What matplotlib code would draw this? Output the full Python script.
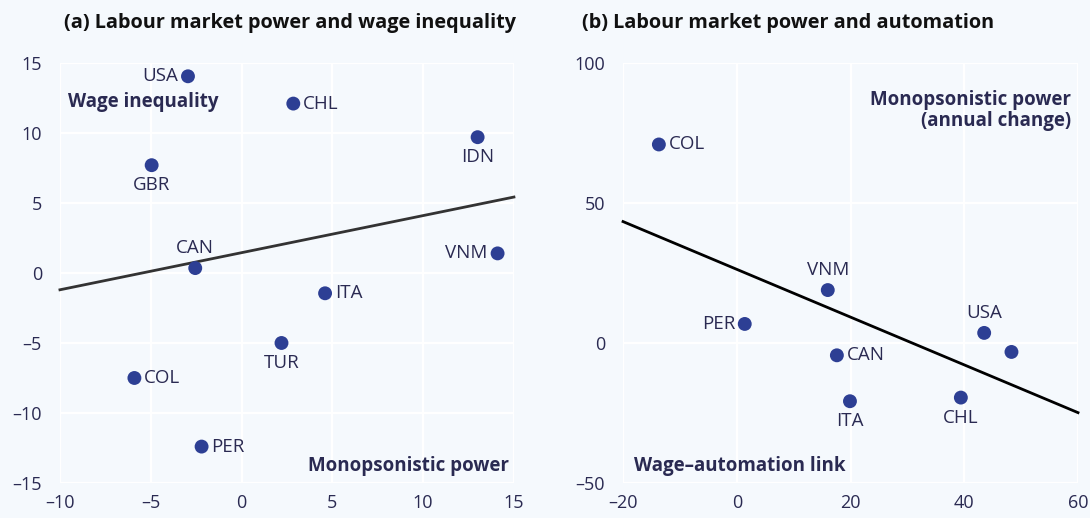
"""
Labour market power: wage inequality (a) and automation (b)
"""

import numpy as np
import matplotlib.pyplot as plt

plt.rcParams['font.family'] = ['Open Sans', 'Noto Sans', 'DejaVu Sans']

# Panel (a): monopsonistic power vs wage inequality
a_countries = ['USA', 'CHL', 'IDN', 'GBR', 'CAN', 'VNM', 'ITA', 'TUR', 'COL', 'PER']
a_power = [-2.95, 2.85, 13.0, -4.95, -2.55, 14.1, 4.6, 2.2, -5.9, -2.2]
a_ineq = [14.05, 12.1, 9.7, 7.7, 0.35, 1.4, -1.45, -5.0, -7.5, -12.4]
a_trend = (1.45, 0.265)   # intercept, slope

# Panel (b): wage-automation link vs annual change in monopsonistic power
b_countries = ['COL', 'VNM', 'PER', 'USA', '', 'CAN', 'ITA', 'CHL']
b_link = [-13.7, 16.0, 1.4, 43.5, 48.3, 17.6, 19.9, 39.4]
b_change = [70.9, 18.9, 6.8, 3.6, -3.2, -4.4, -20.8, -19.5]
b_trend = (26.3, -0.853)

# label placement: (dx, dy, ha, va) in points
a_pos = {'USA': (-7, 0, 'right', 'center'), 'CHL': (7, 0, 'left', 'center'),
         'IDN': (0, -8, 'center', 'top'), 'GBR': (0, -8, 'center', 'top'),
         'CAN': (0, 8, 'center', 'bottom'), 'VNM': (-7, 0, 'right', 'center'),
         'ITA': (7, 0, 'left', 'center'), 'TUR': (0, -8, 'center', 'top'),
         'COL': (7, 0, 'left', 'center'), 'PER': (7, 0, 'left', 'center')}
b_pos = {'COL': (7, 0, 'left', 'center'), 'VNM': (0, 8, 'center', 'bottom'),
         'PER': (-7, 0, 'right', 'center'), 'USA': (0, 8, 'center', 'bottom'),
         '': (0, 0, 'center', 'center'), 'CAN': (7, 0, 'left', 'center'),
         'ITA': (0, -8, 'center', 'top'), 'CHL': (0, -8, 'center', 'top')}

bg = '#F5F9FD'
dot = '#2D3F94'
ink = '#2A2A52'

fig = plt.figure(figsize=(10.9, 5.18), dpi=100, facecolor=bg)
ax1 = fig.add_axes([0.055, 0.0676, 0.4165, 0.8108])
ax2 = fig.add_axes([0.5716, 0.0676, 0.4174, 0.8108])


def style(ax, xlim, ylim, xticks, yticks):
    ax.set_facecolor(bg)
    ax.set_xlim(xlim)
    ax.set_ylim(ylim)
    ax.set_xticks(xticks)
    ax.set_yticks(yticks)
    ax.set_xticklabels([str(t).replace('-', '\u2013') for t in xticks])
    ax.set_yticklabels([str(t).replace('-', '\u2013') for t in yticks])
    ax.grid(True, color='white', linewidth=1.6)
    ax.set_axisbelow(True)
    for s in ax.spines.values():
        s.set_visible(False)
    ax.tick_params(length=0, labelsize=13, colors=ink)
    ax.tick_params(axis='x', pad=8)
    ax.tick_params(axis='y', pad=13)
    for lab in ax.get_xticklabels() + ax.get_yticklabels():
        lab.set_clip_on(False)


def draw(ax, names, xs, ys, trend, pos, xlim, line_color):
    xx = np.array(xlim, dtype=float)
    ax.plot(xx, trend[0] + trend[1] * xx, color=line_color, linewidth=2,
            zorder=2, clip_on=False)
    ax.scatter(xs, ys, s=100, color=dot, zorder=3, clip_on=False,
               edgecolors='none')
    for n, x, y in zip(names, xs, ys):
        if not n:
            continue
        dx, dy, ha, va = pos[n]
        ax.annotate(n, (x, y), xytext=(dx, dy), textcoords='offset points',
                    ha=ha, va=va, fontsize=13.5, color=ink)


style(ax1, (-10, 15), (-15, 15), [-10, -5, 0, 5, 10, 15], [-15, -10, -5, 0, 5, 10, 15])
draw(ax1, a_countries, a_power, a_ineq, a_trend, a_pos, (-10, 15), '#333333')
ax1.text(0.017, 0.907, 'Wage inequality', transform=ax1.transAxes,
         fontsize=13.5, fontweight='bold', color=ink, ha='left', va='center')
ax1.text(0.99, 0.04, 'Monopsonistic power', transform=ax1.transAxes,
         fontsize=13.5, fontweight='bold', color=ink, ha='right', va='center')
fig.text(0.0587, 0.955, '(a) Labour market power and wage inequality',
         fontsize=14.3, fontweight='bold', color='#111111', ha='left', va='center')

style(ax2, (-20, 60), (-50, 100), [-20, 0, 20, 40, 60], [-50, 0, 50, 100])
draw(ax2, b_countries, b_link, b_change, b_trend, b_pos, (-20, 60), '#000000')
ax2.text(0.985, 0.935, 'Monopsonistic power\n(annual change)',
         transform=ax2.transAxes, fontsize=13.5, fontweight='bold', color=ink,
         ha='right', va='top', linespacing=1.05)
ax2.text(0.024, 0.04, 'Wage\u2013automation link', transform=ax2.transAxes,
         fontsize=13.5, fontweight='bold', color=ink, ha='left', va='center')
fig.text(0.5335, 0.955, '(b) Labour market power and automation',
         fontsize=14.3, fontweight='bold', color='#111111', ha='left', va='center')

fig.savefig('out.png', dpi=100, facecolor=bg)
